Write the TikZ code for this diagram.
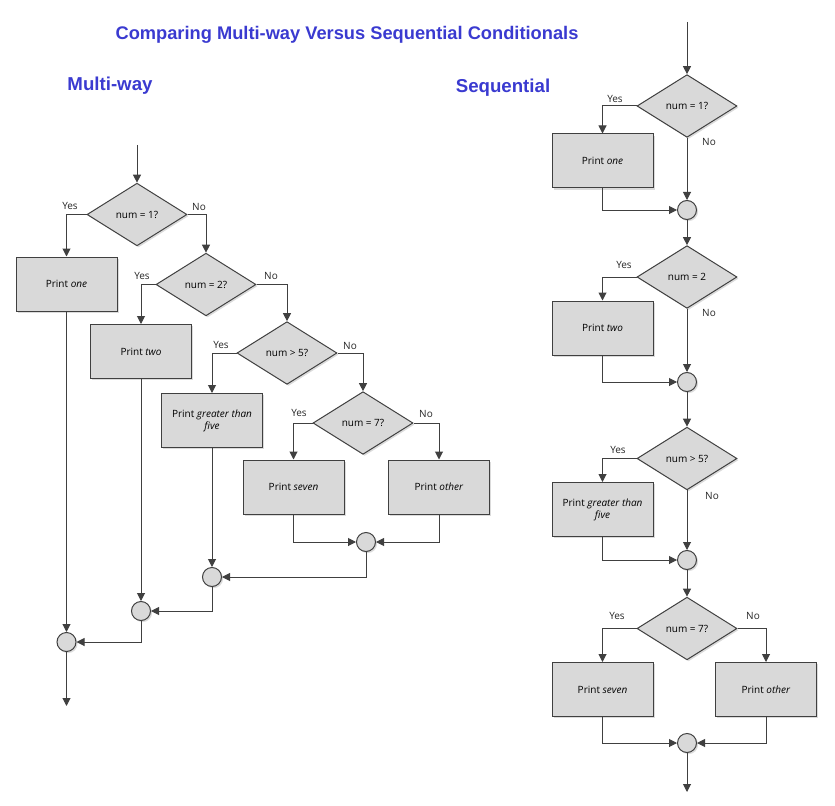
\documentclass[tikz,border=0pt]{standalone}
\usepackage{fontspec}
\setmainfont{Open Sans}
\newfontfamily\headfont{Liberation Sans}
\usetikzlibrary{shapes.geometric,arrows.meta,shadows}

\definecolor{headblue}{RGB}{58,58,208}
\definecolor{boxgray}{RGB}{217,217,217}
\definecolor{linegray}{RGB}{64,64,64}

\tikzset{every picture/.style={line width=0.75pt}}
\tikzset{
  shade/.style={drop shadow={shadow xshift=1.2pt,shadow yshift=-1.2pt,fill=black!20,opacity=0.7}},
  decision/.style={diamond,aspect=1.6,inner sep=0pt,minimum width=75pt,minimum height=47pt,
    draw=linegray,fill=boxgray,shade,font=\fontsize{7.5}{9}\selectfont},
  process/.style={rectangle,inner sep=0pt,minimum width=75.75pt,minimum height=40.5pt,
    draw=linegray,fill=boxgray,shade,align=center,font=\fontsize{7.5}{9}\selectfont},
  joint/.style={circle,inner sep=0pt,minimum size=14.25pt,draw=linegray,fill=boxgray,shade},
  flow/.style={draw=linegray,-{Triangle[length=6pt,width=6pt]}},
  lbl/.style={font=\fontsize{7.5}{9}\selectfont,text=black!85},
  head/.style={font=\headfont\bfseries,text=headblue}
}

\begin{document}
\begin{tikzpicture}[x=0.75pt,y=0.75pt,yscale=-1,xscale=1]
\useasboundingbox (0,0) rectangle (835,806);

% Titles
\node[head,font=\headfont\bfseries\fontsize{13.7}{15}\selectfont] (title) at (347,35) {Comparing Multi-way Versus Sequential Conditionals};
\node[head,font=\headfont\bfseries\fontsize{14}{16}\selectfont] (mwhead) at (110,86) {Multi-way};
\node[head,font=\headfont\bfseries\fontsize{14}{16}\selectfont] (sqhead) at (503,88) {Sequential};

%%% Multi-way chart
% Decisions
\node[decision] (d1) at (137,214.5) {num = 1?};
\node[decision] (d2) at (206,284.5) {num = 2?};
\node[decision] (d3) at (287,353) {num > 5?};
\node[decision] (d4) at (363,423) {num = 7?};
% Processes
\node[process] (one) at (66.5,284) {Print \textit{one}};
\node[process] (two) at (141,351.5) {Print \textit{two}};
\node[process] (gt) at (212,420.5) {Print \textit{greater than}\\\textit{five}};
\node[process] (seven) at (293.5,487) {Print \textit{seven}};
\node[process] (other) at (439,487) {Print \textit{other}};
% Joins
\node[joint] (c4) at (366,542) {};
\node[joint] (c3) at (212,577) {};
\node[joint] (c2) at (141,611) {};
\node[joint] (c1) at (66.5,642) {};
\coordinate (mstart) at (137,145);
\coordinate (mend) at (66.5,706);

% Labels
\node[lbl] at (70,206) {Yes};
\node[lbl] at (199,207) {No};
\node[lbl] at (142,276) {Yes};
\node[lbl] at (271,276) {No};
\node[lbl] at (221,345) {Yes};
\node[lbl] at (350,346) {No};
\node[lbl] at (299,413) {Yes};
\node[lbl] at (426,414) {No};

% Connectors
\draw[flow] (mstart) -- (d1.north);
\draw[flow] (d1.west) -| (one.north);
\draw[flow] (d1.east) -| (d2.north);
\draw[flow] (d2.west) -| (two.north);
\draw[flow] (d2.east) -| (d3.north);
\draw[flow] (d3.west) -| (gt.north);
\draw[flow] (d3.east) -| (d4.north);
\draw[flow] (d4.west) -| (seven.north);
\draw[flow] (d4.east) -| (other.north);
\draw[flow] (seven.south) |- (c4.west);
\draw[flow] (other.south) |- (c4.east);
\draw[flow] (c4.south) |- (c3.east);
\draw[flow] (gt.south) -- (c3.north);
\draw[flow] (c3.south) |- (c2.east);
\draw[flow] (two.south) -- (c2.north);
\draw[flow] (c2.south) |- (c1.east);
\draw[flow] (one.south) -- (c1.north);
\draw[flow] (c1.south) -- (mend);

%%% Sequential chart
% Decisions
\node[decision] (r1) at (687,106) {num = 1?};
\node[decision] (r2) at (687,277) {num = 2};
\node[decision] (r3) at (687,458.5) {num > 5?};
\node[decision] (r4) at (687,628.5) {num = 7?};
% Processes
\node[process] (rone) at (602.5,161) {Print \textit{one}};
\node[process] (rtwo) at (602.5,328) {Print \textit{two}};
\node[process] (rgt) at (602.5,509.5) {Print \textit{greater than}\\\textit{five}};
\node[process] (rseven) at (602.5,689.5) {Print \textit{seven}};
\node[process] (rother) at (766,689.5) {Print \textit{other}};
% Joins
\node[joint] (rc1) at (687,210) {};
\node[joint] (rc2) at (687,382) {};
\node[joint] (rc3) at (687,560) {};
\node[joint] (rc4) at (687,743) {};
\coordinate (sstart) at (687,22);
\coordinate (send) at (687,792);

% Labels
\node[lbl] at (615,99) {Yes};
\node[lbl] at (709,142) {No};
\node[lbl] at (624,265) {Yes};
\node[lbl] at (709,313) {No};
\node[lbl] at (618,450) {Yes};
\node[lbl] at (712,496) {No};
\node[lbl] at (617,616) {Yes};
\node[lbl] at (753,616) {No};

% Connectors
\draw[flow] (sstart) -- (r1.north);
\draw[flow] (r1.west) -| (rone.north);
\draw[flow] (r1.south) -- (rc1.north);
\draw[flow] (rone.south) |- (rc1.west);
\draw[flow] (rc1.south) -- (r2.north);
\draw[flow] (r2.west) -| (rtwo.north);
\draw[flow] (r2.south) -- (rc2.north);
\draw[flow] (rtwo.south) |- (rc2.west);
\draw[flow] (rc2.south) -- (r3.north);
\draw[flow] (r3.west) -| (rgt.north);
\draw[flow] (r3.south) -- (rc3.north);
\draw[flow] (rgt.south) |- (rc3.west);
\draw[flow] (rc3.south) -- (r4.north);
\draw[flow] (r4.west) -| (rseven.north);
\draw[flow] (r4.east) -| (rother.north);
\draw[flow] (rseven.south) |- (rc4.west);
\draw[flow] (rother.south) |- (rc4.east);
\draw[flow] (rc4.south) -- (send);

\end{tikzpicture}
\end{document}
